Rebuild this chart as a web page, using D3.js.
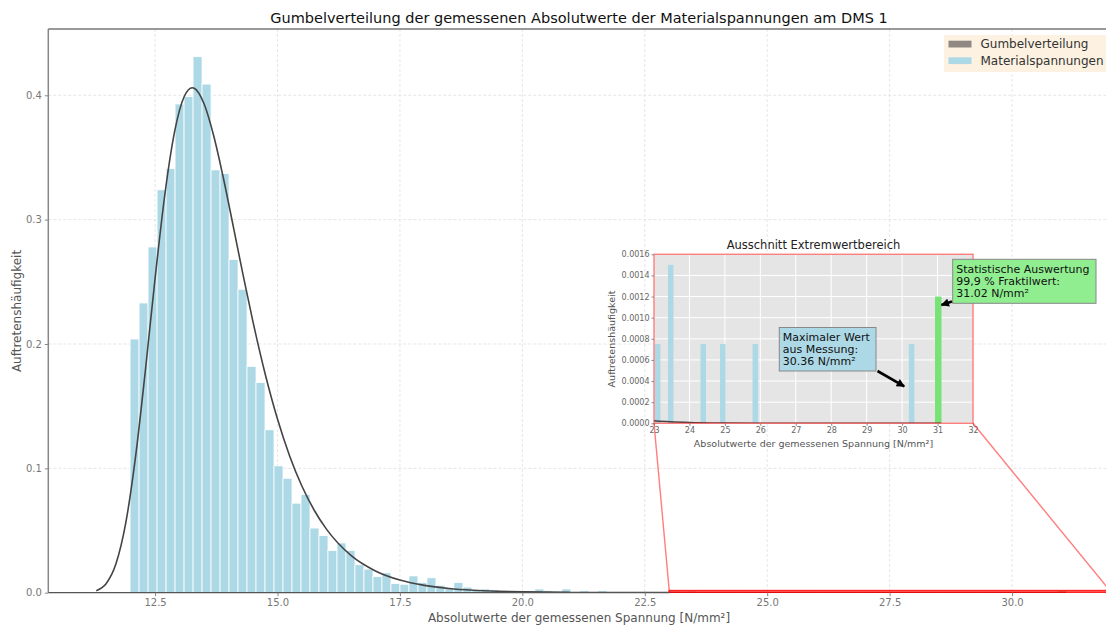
<!DOCTYPE html>
<html><head><meta charset="utf-8">
<script src="https://cdn.jsdelivr.net/npm/d3@7"></script>
<style>body{margin:0;background:#fff}svg{display:block;font-family:"DejaVu Sans",sans-serif}</style>
</head><body><svg id="c" width="1106" height="626"></svg>
<script>
// ---------- data ----------
const binMin = 11.99, binMax = 30.36;
const densities = [
  0.204, 0.233, 0.278, 0.324, 0.341, 0.393, 0.399, 0.431, 0.409, 0.340,
  0.337, 0.268, 0.244, 0.182, 0.169, 0.131, 0.102, 0.092, 0.072, 0.079,
  0.052, 0.046, 0.034, 0.040, 0.034, 0.0225, 0.019, 0.013, 0.016, 0.0075,
  0.0068, 0.0135, 0.0083, 0.0120, 0.0060, 0.0038, 0.0083, 0.0045, 0.0023, 0.0030,
  0.0023, 0.0015, 0.0015, 0.0008, 0.0015, 0.0030, 0.0015, 0.0008, 0.0030, 0.0008,
  0.0015, 0, 0.0015, 0, 0, 0, 0, 0, 0, 0,
  0.00075, 0, 0.0015, 0, 0, 0, 0, 0.00075, 0, 0,
  0.00075, 0, 0, 0, 0, 0.00075, 0, 0, 0, 0,
  0, 0, 0, 0, 0, 0, 0, 0, 0, 0,
  0, 0, 0, 0, 0, 0, 0, 0, 0, 0.00075
];
const gumbelX = [11.3, 11.5, 11.7, 11.9, 12.1, 12.3, 12.5, 12.7, 12.9, 13.1, 13.26, 13.3, 13.5, 13.7, 13.9,
  14.1, 14.3, 14.5, 14.75, 15.0, 15.25, 15.5, 15.75, 16.0, 16.5, 17.0, 17.5, 18.0, 18.5, 19.0,
  19.5, 20, 21, 22, 23, 24, 25, 26, 27, 28, 29, 30, 31.1];
const gumbelY = [0.0016, 0.0072, 0.0230, 0.0557, 0.1088, 0.1779, 0.2525, 0.3202, 0.3709, 0.3994, 0.4061, 0.4057, 0.3932, 0.3671, 0.3325,
  0.2940, 0.2550, 0.2178, 0.1757, 0.1397, 0.1098, 0.0856, 0.0663, 0.0511, 0.0300, 0.0175, 0.01015, 0.00587, 0.00339, 0.00196,
  0.00113, 0.00065, 0.000215, 0.0000714, 0.0000237, 0.0000079, 0.0000026, 0.00000086, 0.00000029, 0.000000095, 0.00000003, 0.00000001, 0.000000003];
const mainXTicks = [12.5, 15.0, 17.5, 20.0, 22.5, 25.0, 27.5, 30.0];
const mainYTicks = [0.0, 0.1, 0.2, 0.3, 0.4];
const insetXTicks = [23, 24, 25, 26, 27, 28, 29, 30, 31, 32];
const insetYTicks = [0, 0.0002, 0.0004, 0.0006, 0.0008, 0.0010, 0.0012, 0.0014, 0.0016];
const maxMeasured = 30.36;
const fraktil = 31.02, fraktilDensity = 0.0012;
const legendLabels = ["Gumbelverteilung", "Materialspannungen"];
const titleText = "Gumbelverteilung der gemessenen Absolutwerte der Materialspannungen am DMS 1";
const xLabel = "Absolutwerte der gemessenen Spannung [N/mm²]";
const yLabel = "Auftretenshäufigkeit";
const insetTitle = "Ausschnitt Extremwertbereich";
const noteMax = ["Maximaler Wert", "aus Messung:", "30.36 N/mm²"];
const noteFrak = ["Statistische Auswertung", "99,9 % Fraktilwert:", "31.02 N/mm²"];

// ---------- setup ----------
const svg = d3.select("#c");
const n = densities.length, bw = (binMax - binMin) / n;
const bins = densities.map((d, i) => ({x0: binMin + i * bw, x1: binMin + (i + 1) * bw, d}));
const gum = gumbelX.map((x, i) => [x, gumbelY[i]]);

const x = d3.scaleLinear().domain([10.32, 32.0]).range([48.3, 1110]);
const y = d3.scaleLinear().domain([0, 0.4533]).range([592.7, 29]);

const defs = svg.append("defs");
defs.append("clipPath").attr("id", "mainClip").append("rect")
  .attr("x", 48.3).attr("y", 29).attr("width", 1062).attr("height", 564);
defs.append("marker").attr("id", "ah").attr("viewBox", "0 0 10 10").attr("refX", 9).attr("refY", 5)
  .attr("markerWidth", 4).attr("markerHeight", 3.2).attr("orient", "auto").attr("markerUnits", "strokeWidth")
  .append("path").attr("d", "M0,0 L10,5 L0,10 z").attr("fill", "#000");

// grid
const grid = svg.append("g");
grid.selectAll(".vg").data(mainXTicks).join("line")
  .attr("x1", d => x(d)).attr("x2", d => x(d)).attr("y1", 29).attr("y2", 592.7)
  .attr("stroke", "#e3e3e3").attr("stroke-width", 0.9).attr("stroke-dasharray", "3,2");
grid.selectAll(".hg").data(mainYTicks).join("line")
  .attr("x1", 48.3).attr("x2", 1110).attr("y1", d => y(d)).attr("y2", d => y(d))
  .attr("stroke", "#e3e3e3").attr("stroke-width", 0.9).attr("stroke-dasharray", "3,2");

const main = svg.append("g").attr("clip-path", "url(#mainClip)");
main.selectAll("rect.bar").data(bins.filter(b => b.d > 0)).join("rect")
  .attr("x", b => x(b.x0)).attr("width", b => x(b.x1) - x(b.x0))
  .attr("y", b => y(b.d)).attr("height", b => y(0) - y(b.d))
  .attr("fill", "#add8e6").attr("stroke", "#fff").attr("stroke-width", 0.8);
main.append("rect").attr("x", x(fraktil - bw / 2)).attr("width", x(fraktil + bw / 2) - x(fraktil - bw / 2))
  .attr("y", y(fraktilDensity)).attr("height", y(0) - y(fraktilDensity)).attr("fill", "#77e377");
const line = d3.line().x(d => x(d[0])).y(d => y(d[1])).curve(d3.curveMonotoneX);
main.append("path").attr("d", line(gum)).attr("fill", "none").attr("stroke", "#444").attr("stroke-width", 1.6);
// zoom rectangle in main axes
main.append("rect").attr("x", x(23)).attr("y", y(0.0016)).attr("width", x(32) - x(23)).attr("height", y(0) - y(0.0016))
  .attr("fill", "none").attr("stroke", "rgba(255,0,0,0.85)").attr("stroke-width", 1.8);

// spines
svg.append("line").attr("x1", 48.3).attr("x2", 48.3).attr("y1", 29).attr("y2", 592.7).attr("stroke", "#888").attr("stroke-width", 1.5);
svg.append("line").attr("x1", 48.3).attr("x2", 1110).attr("y1", 29).attr("y2", 29).attr("stroke", "#777").attr("stroke-width", 1.5);
svg.append("line").attr("x1", 48.3).attr("x2", x(23)).attr("y1", 592.7).attr("y2", 592.7).attr("stroke", "#555").attr("stroke-width", 1.3);

// axes
const xAx = svg.append("g").attr("transform", "translate(0,592.7)")
  .call(d3.axisBottom(x).tickValues(mainXTicks).tickFormat(d3.format(".1f")).tickSize(3.5).tickPadding(3));
const yAx = svg.append("g").attr("transform", "translate(48.3,0)")
  .call(d3.axisLeft(y).tickValues(mainYTicks).tickFormat(d3.format(".1f")).tickSize(3.5).tickPadding(3));
[xAx, yAx].forEach(a => {
  a.select(".domain").remove();
  a.selectAll(".tick line").attr("stroke", "#888");
  a.selectAll(".tick text").attr("fill", "#777").style("font-size", "10px").style("font-family", "DejaVu Sans");
});

svg.append("text").attr("x", 579).attr("y", 23).attr("text-anchor", "middle")
  .style("font-size", "14.5px").attr("fill", "#111").text(titleText);
svg.append("text").attr("x", 579).attr("y", 622).attr("text-anchor", "middle")
  .style("font-size", "12px").attr("fill", "#555").text(xLabel);
svg.append("text").attr("transform", "translate(21,311) rotate(-90)").attr("text-anchor", "middle")
  .style("font-size", "12px").attr("fill", "#555").text(yLabel);

// legend
const lg = svg.append("g");
lg.append("rect").attr("x", 944).attr("y", 35).attr("width", 165).attr("height", 37).attr("fill", "#fdf2e2");
const legendColors = ["#8f8883", "#add8e6"];
legendLabels.forEach((t, i) => {
  lg.append("rect").attr("x", 948.5).attr("y", 40.7 + i * 16.6).attr("width", 23).attr("height", 6.8).attr("fill", legendColors[i]);
  lg.append("text").attr("x", 980.5).attr("y", 48.3 + i * 16.6).style("font-size", "12px").attr("fill", "#333").text(t);
});

// ---------- inset ----------
const ix = d3.scaleLinear().domain([23, 32]).range([654, 973]);
const iy = d3.scaleLinear().domain([0, 0.0016]).range([423.3, 254.3]);
defs.append("clipPath").attr("id", "insClip").append("rect")
  .attr("x", 654).attr("y", 254.3).attr("width", 319).attr("height", 169);
const ins = svg.append("g");
ins.append("rect").attr("x", 654).attr("y", 254.3).attr("width", 319).attr("height", 169).attr("fill", "#e5e5e5");
ins.selectAll(".ivg").data(insetXTicks).join("line")
  .attr("x1", d => ix(d)).attr("x2", d => ix(d)).attr("y1", 254.3).attr("y2", 423.3)
  .attr("stroke", "#fff").attr("stroke-width", 1);
ins.selectAll(".ihg").data(insetYTicks).join("line")
  .attr("x1", 654).attr("x2", 973).attr("y1", d => iy(d)).attr("y2", d => iy(d))
  .attr("stroke", "#fff").attr("stroke-width", 1);
const insC = ins.append("g").attr("clip-path", "url(#insClip)");
insC.selectAll("rect.ibar").data(bins.filter(b => b.d > 0 && b.x1 > 23)).join("rect")
  .attr("x", b => ix(b.x0) + 0.5).attr("width", b => ix(b.x1) - ix(b.x0) - 1)
  .attr("y", b => iy(b.d)).attr("height", b => iy(0) - iy(b.d))
  .attr("fill", "#add8e6");
insC.append("rect").attr("x", ix(fraktil - bw / 2)).attr("width", ix(fraktil + bw / 2) - ix(fraktil - bw / 2))
  .attr("y", iy(fraktilDensity)).attr("height", iy(0) - iy(fraktilDensity)).attr("fill", "#77e377");
const iline = d3.line().x(d => ix(d[0])).y(d => iy(d[1])).curve(d3.curveMonotoneX);
insC.append("path").attr("d", iline(gum.filter(p => p[0] >= 22))).attr("fill", "none").attr("stroke", "#444").attr("stroke-width", 1.6);
ins.append("rect").attr("x", 654).attr("y", 254.3).attr("width", 319).attr("height", 169)
  .attr("fill", "none").attr("stroke", "rgba(255,40,40,0.6)").attr("stroke-width", 1.4);

const ixAx = ins.append("g").attr("transform", "translate(0,423.3)")
  .call(d3.axisBottom(ix).tickValues(insetXTicks).tickFormat(d3.format("d")).tickSize(2.5).tickPadding(2));
const iyAx = ins.append("g").attr("transform", "translate(654,0)")
  .call(d3.axisLeft(iy).tickValues(insetYTicks).tickFormat(d3.format(".4f")).tickSize(2.5).tickPadding(2));
[ixAx, iyAx].forEach(a => {
  a.select(".domain").remove();
  a.selectAll(".tick line").attr("stroke", "#888");
  a.selectAll(".tick text").attr("fill", "#666").style("font-size", "8px").style("font-family", "DejaVu Sans");
});
ins.append("text").attr("x", 813.5).attr("y", 249).attr("text-anchor", "middle")
  .style("font-size", "11.5px").attr("fill", "#222").text(insetTitle);
ins.append("text").attr("x", 813.5).attr("y", 447).attr("text-anchor", "middle")
  .style("font-size", "9.5px").attr("fill", "#555").text(xLabel);
ins.append("text").attr("transform", "translate(615,339) rotate(-90)").attr("text-anchor", "middle")
  .style("font-size", "9.5px").attr("fill", "#555").text(yLabel);

// connectors from inset to zoomed region
const conn = svg.append("g").attr("stroke", "rgba(255,40,40,0.6)").attr("stroke-width", 1.4);
conn.append("line").attr("x1", 654).attr("y1", 423.3).attr("x2", x(23)).attr("y2", y(0.0016));
conn.append("line").attr("x1", 973).attr("y1", 423.3).attr("x2", x(32)).attr("y2", y(0.0016));

// annotations
function note(lines, bx, by, w, h, fill) {
  const g = svg.append("g");
  g.append("rect").attr("x", bx).attr("y", by).attr("width", w).attr("height", h)
    .attr("fill", fill).attr("stroke", "#888").attr("stroke-width", 1);
  lines.forEach((t, i) => g.append("text").attr("x", bx + 3.5).attr("y", by + 13.2 + i * 12.1)
    .style("font-size", "11px").attr("fill", "#111").text(t));
}
note(noteMax, 779.3, 327.5, 96.7, 43.5, "#add8e6");
note(noteFrak, 952.7, 259.3, 143.3, 44, "#90ee90");
svg.append("line").attr("x1", 877.5).attr("y1", 371).attr("x2", ix(maxMeasured - 0.3)).attr("y2", iy(0.00035))
  .attr("stroke", "#000").attr("stroke-width", 2.6).attr("marker-end", "url(#ah)");
svg.append("line").attr("x1", 952).attr("y1", 301.5).attr("x2", ix(fraktil + 0.09)).attr("y2", iy(0.00112))
  .attr("stroke", "#000").attr("stroke-width", 2.6).attr("marker-end", "url(#ah)");
</script></body></html>
